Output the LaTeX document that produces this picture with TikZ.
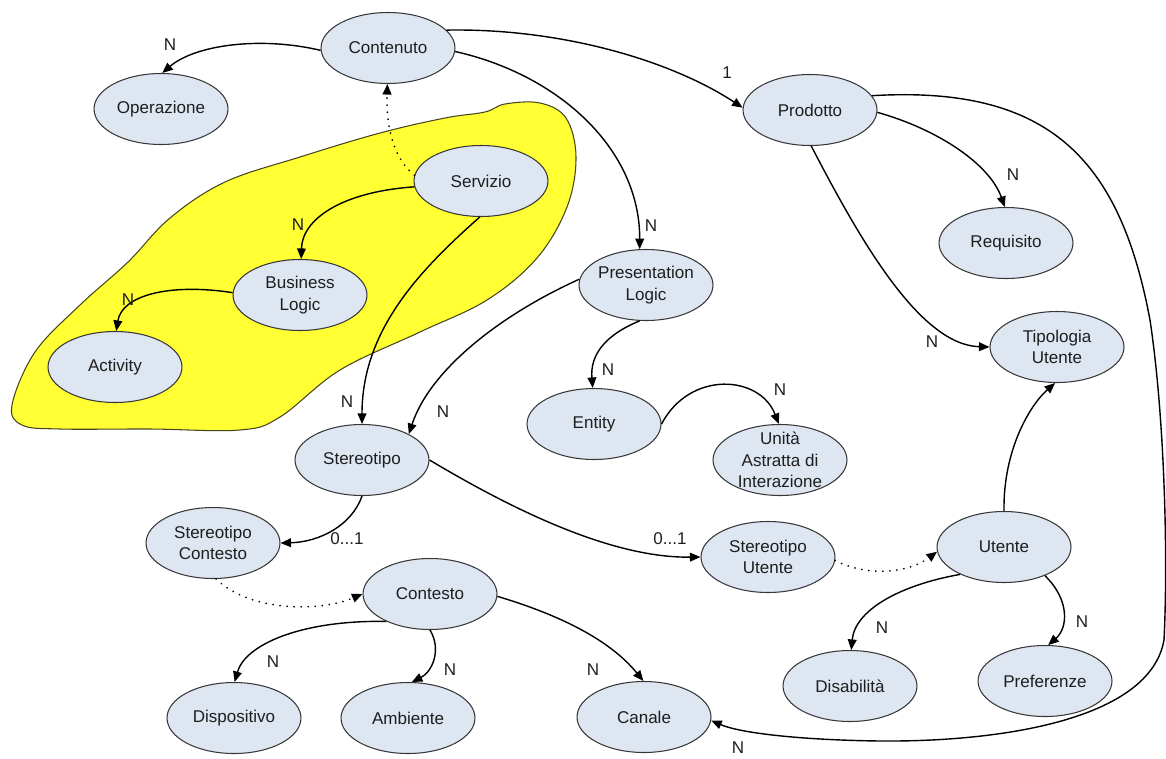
\documentclass[tikz,border=0pt]{standalone}
\usepackage{fontspec}
\setmainfont{Liberation Sans}
\usetikzlibrary{shapes.geometric,arrows.meta}
\definecolor{entfill}{RGB}{222,230,242}
\definecolor{entdraw}{RGB}{55,55,55}
\definecolor{blobfill}{RGB}{255,255,51}
\definecolor{blobdraw}{RGB}{70,70,30}
\definecolor{txt}{RGB}{30,30,30}
\tikzset{
  ent/.style={ellipse, draw=entdraw, fill=entfill, line width=0.6pt,
    minimum width=2.68cm, minimum height=1.42cm, inner sep=-6pt,
    align=center, font=\fontsize{9.7}{12.3}\selectfont, text=txt},
  rel/.style={line width=0.8pt, draw=black, -{Triangle[length=6pt,width=5pt]}},
  dots/.style={rel, dash pattern=on 0.01pt off 4pt, line cap=round, line width=1.1pt},
  card/.style={font=\fontsize{9.7}{12}\selectfont, text=txt, inner sep=0pt},
}
\begin{document}
\begin{tikzpicture}[x=0.02cm, y=-0.02cm]
\useasboundingbox (0,0) rectangle (1166,758);
% yellow area
\filldraw[fill=blobfill, draw=blobdraw, line width=0.6pt]
  plot[smooth cycle, tension=0.6] coordinates {
  (12,405) (35,352) (80,305) (128,262) (170,218) (225,182) (300,157) (380,133)
  (445,118) (485,112) (505,104) (540,103) (566,118) (576,157) (567,207)
  (537,258) (487,300) (420,332) (340,370) (280,417) (240,430) (150,429) (60,429) (22,425)};
% entities
\node[ent] (contenuto) at (388,48) {Contenuto};
\node[ent] (operazione) at (161,109) {Operazione};
\node[ent] (prodotto) at (810,110) {Prodotto};
\node[ent] (servizio) at (481,181) {Servizio};
\node[ent] (requisito) at (1006,243) {Requisito};
\node[ent] (bl) at (300,295) {Business\\Logic};
\node[ent] (pl) at (646,285) {Presentation\\Logic};
\node[ent] (activity) at (115,367) {Activity};
\node[ent] (tip) at (1057,347) {Tipologia\\Utente};
\node[ent] (entity) at (594,424) {Entity};
\node[ent] (st) at (362,460) {Stereotipo};
\node[ent] (un) at (780,460) {Unità\\Astratta di\\Interazione};
\node[ent] (sc) at (213,543) {Stereotipo\\Contesto};
\node[ent] (su) at (768,557) {Stereotipo\\Utente};
\node[ent] (ut) at (1004,547) {Utente};
\node[ent] (co) at (430,594) {Contesto};
\node[ent] (di) at (850,686) {Disabilità};
\node[ent] (pr) at (1045,681) {Preferenze};
\node[ent] (dp) at (234,718) {Dispositivo};
\node[ent] (am) at (408,718) {Ambiente};
\node[ent] (ca) at (644,717) {Canale};
% connectors
\draw[rel] (contenuto.182) .. controls (260,36) and (195,45) .. (operazione.88);
\draw[rel] (contenuto.17) .. controls (560,28) and (670,60) .. (prodotto.178);
\draw[rel] (contenuto.-3) .. controls (560,75) and (640,150) .. (pl.100);
\draw[dots] (servizio.175) .. controls (395,160) and (386,130) .. (contenuto.-91);
\draw[rel] (servizio.185) .. controls (340,192) and (302,220) .. (bl.88);
\draw[rel] (bl.178) .. controls (170,283) and (122,295) .. (activity.88);
\draw[rel] (servizio.-92) .. controls (420,270) and (362,330) .. (st.90);
\draw[rel] (pl.175) .. controls (500,315) and (430,370) .. (st.29);
\draw[rel] (pl.-100) .. controls (605,335) and (590,355) .. (entity.92);
\draw[rel] (entity.0) .. controls (690,370) and (760,375) .. (un.92);
\draw[rel] (st.-90) .. controls (352,525) and (320,542) .. (sc.0);
\draw[rel] (st.0) .. controls (530,520) and (620,558) .. (su.180);
\draw[dots] (sc.-85) .. controls (250,612) and (320,612) .. (co.180);
\draw[dots] (su.-3) .. controls (870,578) and (910,572) .. (ut.184);
\draw[rel] (ut.90) .. controls (1003,450) and (1030,405) .. (tip.-93);
\draw[rel] (prodotto.-2) .. controls (940,130) and (990,165) .. (requisito.92);
\draw[rel] (prodotto.-88) .. controls (860,240) and (920,345) .. (tip.180);
\draw[rel] (prodotto.13) .. controls (1050,85) and (1120,160) .. (1150,320)
  .. controls (1165,420) and (1168,560) .. (1164,640)
  .. controls (1150,720) and (1000,742) .. (880,741)
  .. controls (800,740) and (740,733) .. (ca.-3);
\draw[rel] (co.212) .. controls (300,620) and (245,645) .. (dp.89);
\draw[rel] (co.-90) .. controls (442,650) and (432,672) .. (am.84);
\draw[rel] (co.-2) .. controls (560,615) and (610,640) .. (ca.91);
\draw[rel] (ut.212) .. controls (900,585) and (855,610) .. (di.88);
\draw[rel] (ut.-35) .. controls (1070,600) and (1068,628) .. (pr.85);
% cardinalities
\node[card] (l1) at (170,45) {N};
\node[card] (l2) at (727,73) {1};
\node[card] (l3) at (651,226) {N};
\node[card] (l4) at (298,225) {N};
\node[card] (l5) at (128,300) {N};
\node[card] (l6) at (347,402) {N};
\node[card] (l7) at (443,412) {N};
\node[card] (l8) at (608,370) {N};
\node[card] (l9) at (780,390) {N};
\node[card] (l10) at (347,539) {0...1};
\node[card] (l11) at (670,539) {0...1};
\node[card] (l12) at (1013,175) {N};
\node[card] (l13) at (932,342) {N};
\node[card] (l14) at (738,748) {N};
\node[card] (l15) at (273,662) {N};
\node[card] (l16) at (450,670) {N};
\node[card] (l17) at (593,670) {N};
\node[card] (l18) at (882,628) {N};
\node[card] (l19) at (1082,622) {N};
\end{tikzpicture}
\end{document}
